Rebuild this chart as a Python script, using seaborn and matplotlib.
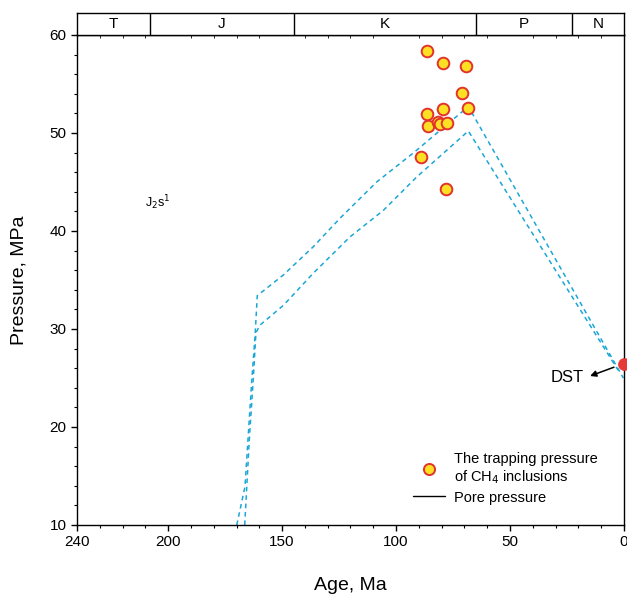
import matplotlib
matplotlib.use("Agg")
import matplotlib.pyplot as plt
import pandas as pd
import seaborn as sns
from matplotlib.lines import Line2D
from matplotlib.ticker import MultipleLocator

# trapping pressure of CH4 inclusions (age Ma, pressure MPa)
incl_age = [86.6, 79.5, 69.3, 71.2, 68.4, 86.3, 79.4, 85.9, 81.4, 80.6, 77.5, 89.1, 78.1]
incl_pressure = [58.4, 57.1, 56.8, 54.1, 52.6, 51.9, 52.4, 50.7, 51.1, 50.9, 51.0, 47.5, 44.3]

# pore pressure evolution envelope
upper_age = [169.9, 166.3, 163.3, 161.9, 160.9, 149.5, 136.3, 124.6, 108.5, 91.7, 68.3, 0.3]
upper_pressure = [10.0, 13.9, 24.8, 29.2, 33.4, 35.5, 38.4, 41.3, 45.0, 48.1, 52.7, 25.0]
lower_age = [166.4, 164.4, 162.6, 161.5, 159.7, 149.5, 136.3, 120.2, 105.6, 91.0, 68.3, 2.6]
lower_pressure = [10.0, 18.7, 25.1, 29.6, 30.4, 32.4, 35.7, 39.4, 42.1, 45.5, 50.2, 25.8]

dst_age = [0.0]
dst_pressure = [26.4]

periods = ["T", "J", "K", "P", "N"]
period_bounds = [240, 208, 145, 65, 23, 0]

sns.set_style("ticks")
plt.rcParams["font.family"] = ["Liberation Sans", "DejaVu Sans"]
plt.rcParams["text.color"] = "black"
plt.rcParams["axes.labelcolor"] = "black"
plt.rcParams["xtick.color"] = "black"
plt.rcParams["ytick.color"] = "black"

fig = plt.figure(figsize=(6.27, 5.94), dpi=100)
ax = fig.add_axes([0.1228, 0.1162, 0.8724, 0.8249])
top = fig.add_axes([0.1228, 0.9411, 0.8724, 0.037], sharex=ax)

line_color = "#1ba6d6"
for age, pres in [(upper_age, upper_pressure), (lower_age, lower_pressure)]:
    sns.lineplot(x=age, y=pres, sort=False, ax=ax, color=line_color,
                 linewidth=1.1, linestyle=(0, (3.0, 2.5)), estimator=None)

incl = pd.DataFrame({"age": incl_age, "pressure": incl_pressure})
sns.scatterplot(data=incl, x="age", y="pressure", ax=ax, s=70, color="#fde024",
                edgecolor="#e2322c", linewidth=1.4, zorder=5)
sns.scatterplot(x=dst_age, y=dst_pressure, ax=ax, s=75, color="#e53935",
                edgecolor="#e53935", linewidth=0.5, zorder=6, clip_on=False)

ax.text(25.0, 25.0, "DST", fontsize=12, ha="center", va="center")
ax.annotate("", xy=(14.9, 25.2), xytext=(4.4, 26.1),
            arrowprops=dict(arrowstyle="-|>", color="black", lw=1.1,
                            mutation_scale=9, shrinkA=0, shrinkB=0))

ax.text(204.5, 42.9, r"J$_2$s$^1$", fontsize=9, ha="center", va="center")

ax.set_xlim(240, 0)
ax.set_ylim(10, 60)
ax.xaxis.set_minor_locator(MultipleLocator(10))
ax.yaxis.set_major_locator(MultipleLocator(10))
ax.yaxis.set_minor_locator(MultipleLocator(2))
ax.set_xticks([240, 200, 150, 100, 50, 0])
ax.tick_params(axis="both", which="major", labelsize=11, length=4, width=1, direction="out")
ax.tick_params(axis="both", which="minor", length=2.5, width=0.8, direction="out")
ax.set_xlabel("Age, Ma", fontsize=14, labelpad=20)
ax.set_ylabel("Pressure, MPa", fontsize=14, labelpad=16)
for sp in ax.spines.values():
    sp.set_visible(True)
    sp.set_linewidth(1.0)
    sp.set_color("black")

# geological period header
top.set_ylim(0, 1)
for b in period_bounds[1:-1]:
    top.axvline(b, color="black", linewidth=1.0)
for name, a, b in zip(periods, period_bounds[:-1], period_bounds[1:]):
    top.text((a + b) / 2, 0.5, name, ha="center", va="center", fontsize=11)
top.tick_params(left=False, bottom=False, labelleft=False, labelbottom=False)
for sp in top.spines.values():
    sp.set_visible(True)
    sp.set_linewidth(1.0)
    sp.set_color("black")

handles = [
    Line2D([], [], marker="o", linestyle="none", markersize=8,
           markerfacecolor="#fde024", markeredgecolor="#e2322c", markeredgewidth=1.4),
    Line2D([], [], color="black", linewidth=1.0),
]
labels = ["The trapping pressure\nof CH$_4$ inclusions", "Pore pressure"]
ax.legend(handles, labels, loc="lower left", bbox_to_anchor=(0.59, 0.015),
          frameon=False, fontsize=10.5, handlelength=2.2, handletextpad=0.6,
          labelspacing=0.3)

fig.savefig("out.png", dpi=100)
